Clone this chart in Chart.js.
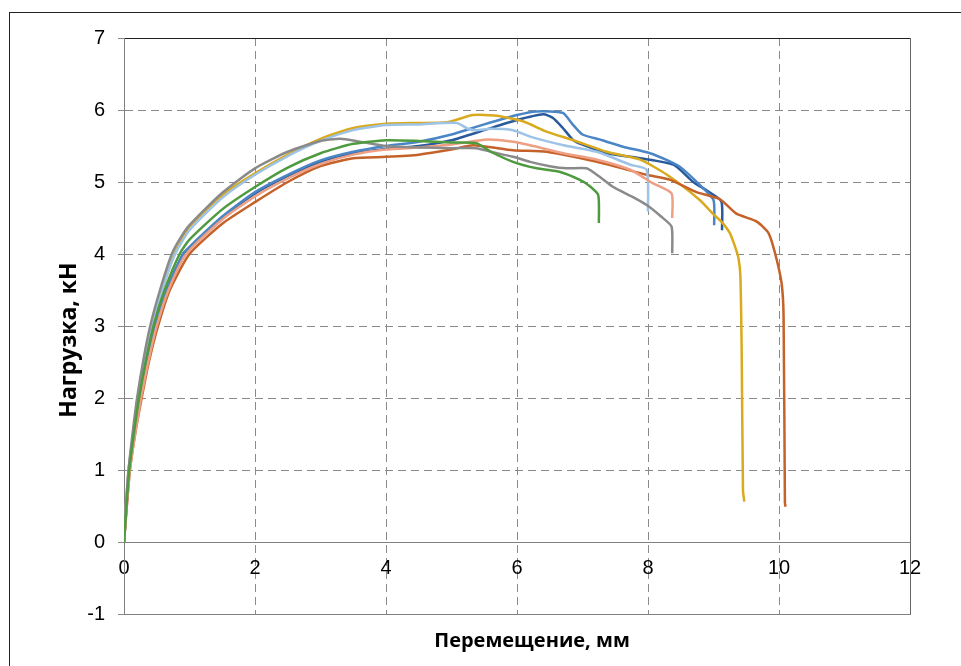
<!DOCTYPE html>
<html>
<head>
<meta charset="utf-8">
<script src="https://cdn.jsdelivr.net/npm/chart.js@4/dist/chart.umd.min.js"></script>
<style>
  html, body { margin: 0; padding: 0; background: #fff; overflow: hidden; width: 961px; height: 666px; }
  #frame { position: absolute; left: 9px; top: 12px; width: 1000px; height: 700px; border: 1px solid #222; }
  #c { position: absolute; left: 0; top: 0; }
</style>
</head>
<body>
<div id="frame"></div>
<canvas id="c" width="961" height="666"></canvas>
<script>
// ---- Data (displacement, mm  ->  load, kN) ----
const grayX   = [0, 0.03, 0.07, 0.13, 0.2, 0.3, 0.4, 0.55, 0.73, 0.86, 1.0, 1.5, 2.0, 2.5, 3.0, 3.3, 3.6, 4.0, 4.5, 5.0, 5.38, 5.6, 5.94, 6.2, 6.5, 6.76, 7.06, 7.25, 7.47, 7.75, 7.98, 8.2, 8.36, 8.37];
const grayY   = [0, 0.5, 1.0, 1.5, 2.0, 2.55, 3.0, 3.5, 4.0, 4.22, 4.4, 4.85, 5.19, 5.42, 5.57, 5.6, 5.56, 5.5, 5.48, 5.47, 5.47, 5.42, 5.35, 5.28, 5.22, 5.19, 5.19, 5.08, 4.93, 4.8, 4.68, 4.52, 4.38, 4.01];

const goldX   = [0, 0.03, 0.07, 0.14, 0.21, 0.31, 0.42, 0.58, 0.77, 0.88, 1.0, 1.5, 2.0, 2.5, 3.0, 3.5, 4.0, 4.5, 4.93, 5.33, 5.69, 6.1, 6.45, 6.86, 7.37, 7.88, 8.29, 8.79, 9.0, 9.12, 9.25, 9.33, 9.38, 9.41, 9.43, 9.45, 9.47];
const goldY   = [0, 0.5, 1.0, 1.5, 2.0, 2.55, 3.0, 3.5, 4.0, 4.2, 4.38, 4.82, 5.12, 5.38, 5.6, 5.75, 5.81, 5.82, 5.83, 5.93, 5.92, 5.84, 5.70, 5.58, 5.42, 5.31, 5.10, 4.75, 4.55, 4.45, 4.29, 4.1, 3.95, 3.7, 2.67, 0.72, 0.56];

const orangeX = [0, 0.03, 0.09, 0.17, 0.27, 0.38, 0.52, 0.7, 1.0, 1.5, 2.0, 2.5, 3.0, 3.5, 4.0, 4.5, 5.0, 5.33, 5.94, 6.45, 7.22, 7.98, 8.34, 8.74, 9.1, 9.35, 9.66, 9.84, 9.94, 10.04, 10.07, 10.09, 10.1];
const orangeY = [0, 0.35, 1.0, 1.5, 2.0, 2.5, 3.0, 3.5, 4.0, 4.42, 4.72, 5.0, 5.22, 5.33, 5.35, 5.38, 5.45, 5.51, 5.44, 5.42, 5.28, 5.10, 5.03, 4.86, 4.76, 4.56, 4.45, 4.29, 4.01, 3.59, 3.13, 0.55, 0.49];

const salmonX = [0, 0.03, 0.09, 0.17, 0.26, 0.37, 0.5, 0.68, 0.95, 1.5, 2.0, 2.5, 3.0, 3.5, 4.0, 4.5, 5.0, 5.54, 5.94, 6.2, 6.71, 7.22, 7.73, 8.08, 8.36, 8.37];
const salmonY = [0, 0.35, 1.0, 1.5, 2.0, 2.5, 3.0, 3.5, 4.0, 4.48, 4.8, 5.05, 5.25, 5.38, 5.45, 5.48, 5.52, 5.59, 5.56, 5.51, 5.40, 5.31, 5.17, 4.98, 4.84, 4.50];

const greenX  = [0, 0.03, 0.08, 0.15, 0.23, 0.33, 0.45, 0.62, 0.85, 1.0, 1.5, 2.0, 2.5, 3.0, 3.5, 4.0, 4.5, 5.0, 5.38, 5.6, 5.94, 6.3, 6.66, 6.96, 7.1, 7.24, 7.25];
const greenY  = [0, 0.4, 1.0, 1.5, 2.0, 2.5, 3.0, 3.5, 4.0, 4.2, 4.62, 4.93, 5.2, 5.4, 5.53, 5.58, 5.57, 5.55, 5.54, 5.42, 5.28, 5.19, 5.14, 5.03, 4.95, 4.82, 4.43];

const lblueX  = [0, 0.03, 0.07, 0.14, 0.21, 0.31, 0.42, 0.58, 0.78, 1.0, 1.5, 2.0, 2.5, 3.0, 3.5, 4.0, 4.5, 5.08, 5.25, 5.38, 5.6, 5.94, 6.2, 6.71, 7.22, 7.73, 7.98, 8.0];
const lblueY  = [0, 0.5, 1.0, 1.5, 2.0, 2.55, 3.0, 3.5, 4.0, 4.33, 4.78, 5.1, 5.36, 5.57, 5.72, 5.79, 5.8, 5.82, 5.74, 5.72, 5.74, 5.72, 5.63, 5.51, 5.42, 5.24, 5.17, 4.59];

const blueX   = [0, 0.03, 0.08, 0.15, 0.24, 0.34, 0.47, 0.65, 0.9, 1.0, 1.5, 2.0, 2.5, 3.0, 3.5, 4.0, 4.5, 5.0, 5.5, 6.0, 6.3, 6.7, 6.85, 7.0, 7.3, 7.62, 8.03, 8.3, 8.49, 8.79, 9.0, 9.01];
const blueY   = [0, 0.4, 1.0, 1.5, 2.0, 2.5, 3.0, 3.5, 4.0, 4.1, 4.52, 4.86, 5.1, 5.3, 5.42, 5.5, 5.56, 5.66, 5.8, 5.93, 5.98, 5.96, 5.8, 5.66, 5.58, 5.49, 5.40, 5.3, 5.21, 4.96, 4.75, 4.40];

const navyX   = [0, 0.03, 0.08, 0.15, 0.24, 0.34, 0.47, 0.65, 0.9, 1.0, 1.5, 2.0, 2.5, 3.0, 3.5, 4.0, 4.5, 5.0, 5.5, 6.0, 6.4, 6.55, 6.7, 6.86, 7.0, 7.37, 7.88, 8.39, 8.69, 8.9, 9.12, 9.13];
const navyY   = [0, 0.4, 1.0, 1.5, 2.0, 2.5, 3.0, 3.5, 4.0, 4.08, 4.5, 4.84, 5.08, 5.28, 5.4, 5.46, 5.5, 5.58, 5.72, 5.86, 5.94, 5.89, 5.75, 5.58, 5.52, 5.40, 5.33, 5.24, 5.0, 4.88, 4.73, 4.33];

const xTicksMin = 0, xTicksMax = 12, xStep = 2;
const yTicksMin = -1, yTicksMax = 7, yStep = 1;
const xTitle = 'Перемещение, мм';
const yTitle = 'Нагрузка, кН';

function pts(xs, ys) { return xs.map((x, i) => ({ x: x, y: ys[i] })); }

const series = [
  { data: pts(greenX, greenY),   color: '#4E9A3E' },
  { data: pts(grayX, grayY),     color: '#8A8A8A' },
  { data: pts(salmonX, salmonY), color: '#EE9F84' },
  { data: pts(lblueX, lblueY),   color: '#9DC3E6' },
  { data: pts(orangeX, orangeY), color: '#C5622A' },
  { data: pts(goldX, goldY),     color: '#D9AA1E' },
  { data: pts(blueX, blueY),     color: '#4A86C6' },
  { data: pts(navyX, navyY),     color: '#2B5A9C' }
];

const gridGray = '#8a8a8a';
const tickFont = { family: '"Liberation Sans", Arial, sans-serif', size: 20 };
const xTitleFont = { family: '"Open Sans", "Liberation Sans", sans-serif', size: 20, weight: 'bold' };
const yTitleFont = { family: '"Open Sans", "Liberation Sans", sans-serif', size: 23, weight: 'bold' };

// shifts the two axis titles slightly off-centre, as in the original
const titleNudge = {
  id: 'titleNudge',
  afterLayout(chart) {
    chart.boxes.forEach(b => {
      if (!b.options || b.options.text === undefined) return;
      if (b.options.text === xTitle) { b.left += 15; b.right += 15; }
      if (b.options.text === yTitle) { b.top += 14; b.bottom += 14; }
    });
  }
};

new Chart(document.getElementById('c'), {
  type: 'line',
  data: {
    datasets: series.map(s => ({
      data: s.data,
      borderColor: s.color,
      backgroundColor: s.color,
      borderWidth: 2.5,
      pointRadius: 0,
      tension: 0.2,
      fill: false
    }))
  },
  plugins: [titleNudge],
  options: {
    responsive: false,
    animation: false,
    devicePixelRatio: 1,
    layout: { padding: { left: 52, right: 51, top: 38, bottom: 13 } },
    plugins: {
      legend: { display: false },
      tooltip: { enabled: false },
      title: {
        display: true, position: 'bottom', fullSize: false, text: xTitle, color: '#000',
        font: xTitleFont, padding: { top: 15, bottom: 0 }
      },
      subtitle: {
        display: true, position: 'left', fullSize: false, text: yTitle, color: '#000',
        font: yTitleFont, padding: { top: 4, bottom: 0 }
      }
    },
    scales: {
      x: {
        type: 'linear',
        position: 'bottom',
        min: xTicksMin, max: xTicksMax,
        ticks: { display: false, stepSize: xStep },
        grid: {
          drawTicks: false,
          color: c => (c.tick && c.tick.value === xTicksMax) ? '#666' : gridGray,
          lineWidth: 1
        },
        border: {
          display: true, color: '#808080', width: 1,
          dash: c => (c.tick && (c.tick.value === xTicksMax || c.tick.value === xTicksMin)) ? [] : [8, 5]
        }
      },
      x0: {
        type: 'linear',
        axis: 'x',
        position: { y: 0 },
        min: xTicksMin, max: xTicksMax,
        ticks: { stepSize: xStep, color: '#000', font: tickFont, padding: 14, maxRotation: 0 },
        grid: { display: false, drawTicks: false },
        border: { display: true, color: '#808080', width: 1 }
      },
      y: {
        type: 'linear',
        position: 'left',
        min: yTicksMin, max: yTicksMax,
        ticks: { stepSize: yStep, color: '#000', font: tickFont, padding: 13 },
        grid: {
          color: c => (c.tick && c.tick.value === yTicksMax) ? '#222' : gridGray,
          tickColor: gridGray,
          tickLength: 6,
          lineWidth: 1
        },
        border: {
          display: true, color: '#808080', width: 1,
          dash: c => (c.tick && (c.tick.value === yTicksMax || c.tick.value === yTicksMin || c.tick.value === 0)) ? [] : [8, 5]
        },
        afterFit: s => { s.width = 40.4; }
      }
    }
  }
});
</script>
</body>
</html>
